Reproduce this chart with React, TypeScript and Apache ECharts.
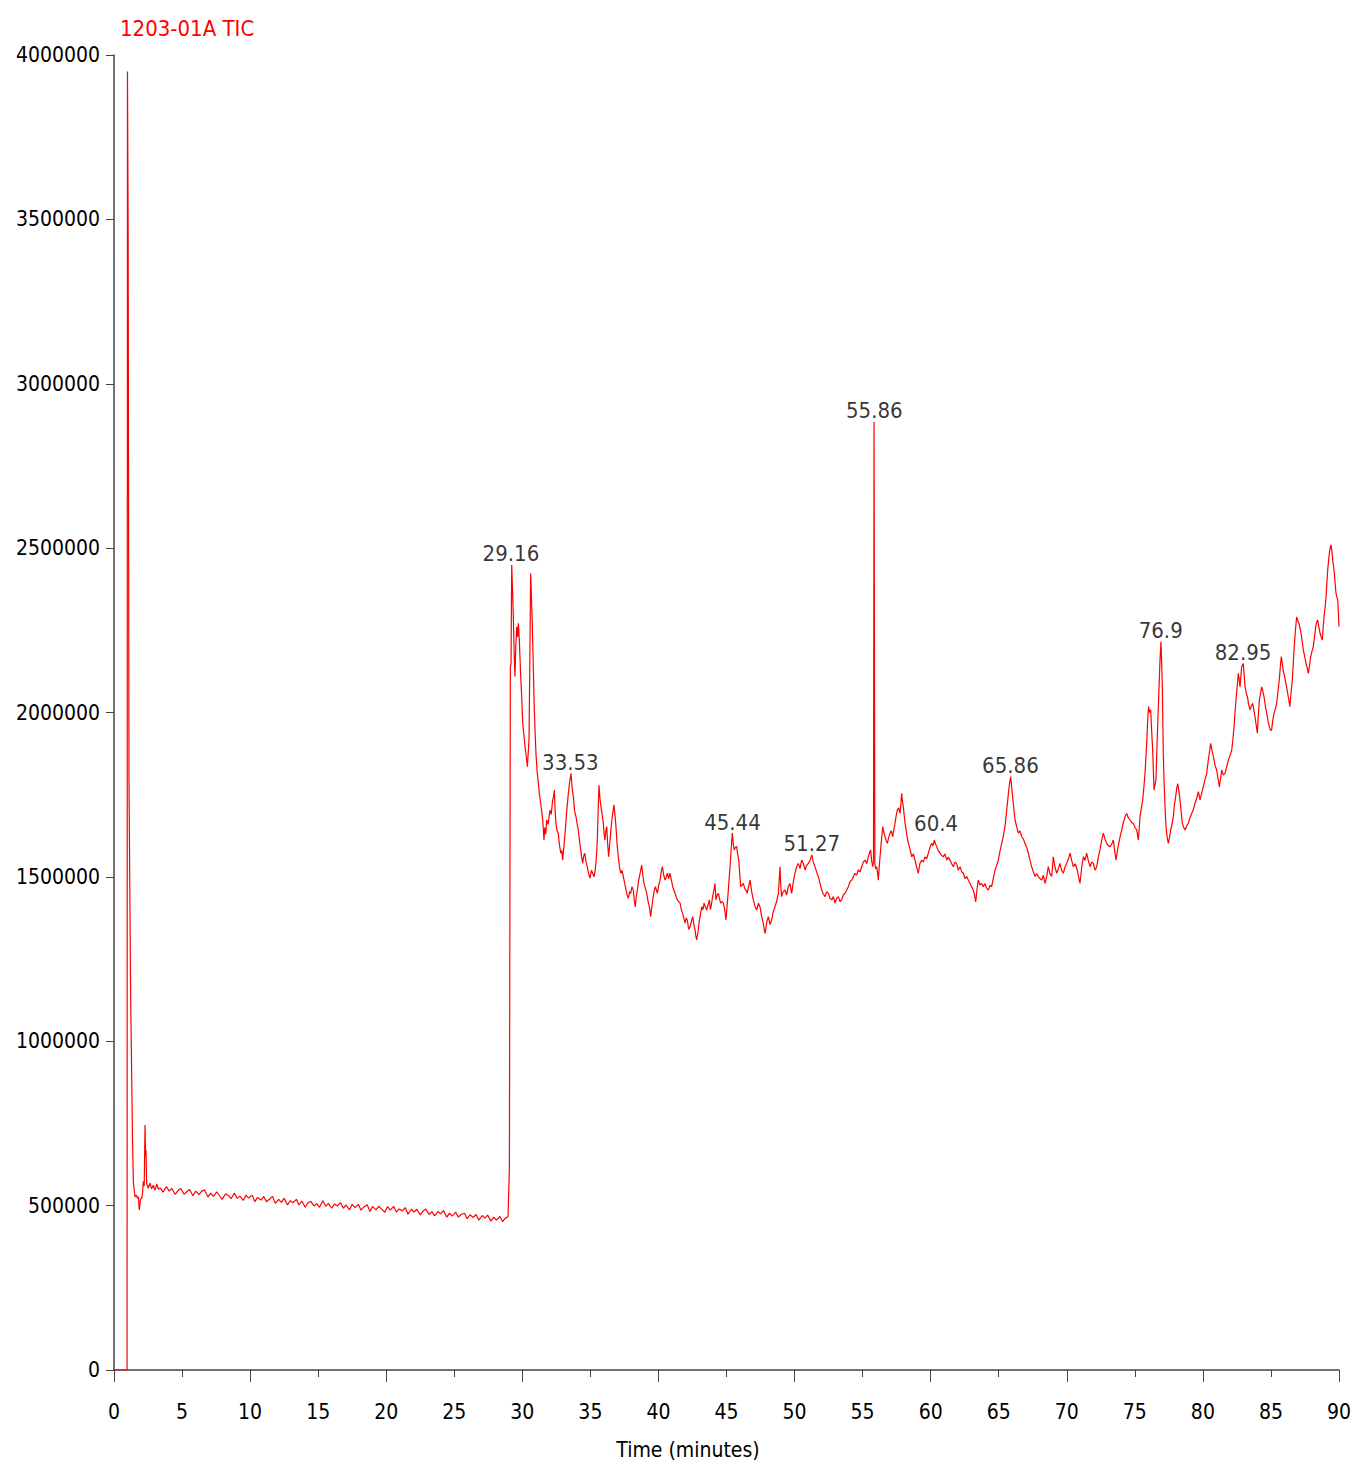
import React, { useEffect, useRef } from "react";
import * as echarts from "echarts";

const FONT = "'DejaVu Sans Condensed', 'Liberation Sans Narrow', sans-serif";

const chartTitle = "1203-01A TIC";
const xAxisTitle = "Time (minutes)";
const yTicks = [0, 500000, 1000000, 1500000, 2000000, 2500000, 3000000, 3500000, 4000000];

// [time (min), intensity]
const injection: number[][] = [
  [0, 0], [0.96, 0], [0.97, 1460000], [0.99, 3950000], [1.04, 3470000], [1.10, 1800000],
  [1.22, 1150000], [1.36, 700000], [1.42, 573000], [1.54, 527000], [1.65, 532000], [1.72, 522000],
  [1.79, 527000], [1.86, 487000], [1.95, 520000], [2.04, 523000], [2.10, 540000], [2.15, 573000],
  [2.22, 560000], [2.28, 745000], [2.32, 650000], [2.35, 669000], [2.40, 568000],
];

const baseline: number[][] = [
  [2.52, 553000], [2.64, 568000], [2.77, 551000], [2.89, 562000], [3.02, 547000], [3.14, 566000],
  [3.26, 550000], [3.40, 554000], [3.60, 541000], [3.85, 558000], [4.05, 544000], [4.25, 552000],
  [4.50, 534000], [4.70, 546000], [4.90, 552000], [5.15, 535000], [5.35, 542000], [5.55, 549000],
  [5.80, 530000], [6.00, 544000], [6.25, 534000], [6.45, 544000], [6.65, 548000], [6.90, 526000],
  [7.10, 538000], [7.30, 528000], [7.55, 542000], [7.75, 530000], [7.95, 519000], [8.20, 536000],
  [8.40, 531000], [8.60, 521000], [8.85, 538000], [9.05, 522000], [9.25, 529000], [9.50, 516000],
  [9.70, 532000], [9.90, 523000], [10.15, 532000], [10.35, 512000], [10.55, 525000], [10.80, 517000],
  [11.00, 528000], [11.20, 512000], [11.45, 520000], [11.65, 528000], [11.85, 507000], [12.10, 519000],
  [12.30, 510000], [12.50, 522000], [12.75, 502000], [12.95, 515000], [13.15, 509000], [13.40, 519000],
  [13.60, 502000], [13.80, 514000], [14.05, 495000], [14.25, 509000], [14.45, 513000], [14.70, 499000],
  [14.90, 506000], [15.10, 495000], [15.35, 515000], [15.55, 498000], [15.75, 507000], [16.00, 492000],
  [16.20, 505000], [16.40, 499000], [16.65, 509000], [16.85, 492000], [17.05, 502000], [17.30, 487000],
  [17.50, 504000], [17.70, 494000], [17.95, 504000], [18.15, 486000], [18.35, 496000], [18.60, 503000],
  [18.80, 482000], [19.00, 497000], [19.25, 487000], [19.45, 498000], [19.65, 490000], [19.90, 480000],
  [20.10, 497000], [20.30, 486000], [20.55, 498000], [20.75, 480000], [20.95, 490000], [21.20, 484000],
  [21.40, 494000], [21.60, 474000], [21.85, 489000], [22.05, 480000], [22.25, 489000], [22.50, 472000],
  [22.70, 483000], [22.90, 490000], [23.15, 473000], [23.35, 482000], [23.55, 469000], [23.80, 482000],
  [24.00, 475000], [24.20, 485000], [24.45, 465000], [24.65, 477000], [24.85, 468000], [25.10, 480000],
  [25.30, 465000], [25.50, 473000], [25.75, 477000], [25.95, 460000], [26.15, 472000], [26.40, 464000],
  [26.60, 473000], [26.80, 456000], [27.05, 470000], [27.25, 462000], [27.45, 471000], [27.70, 453000],
  [27.90, 465000], [28.10, 456000], [28.35, 467000], [28.55, 451000], [28.75, 462000], [28.95, 466000],
];

const elution1: number[][] = [
  [29.05, 618000], [29.12, 2139000], [29.17, 2150000], [29.22, 2449000], [29.34, 2291000], [29.40, 2180000],
  [29.46, 2109000], [29.52, 2200000], [29.59, 2261000], [29.65, 2230000], [29.71, 2271000], [29.78, 2220000],
  [29.88, 2109000], [29.95, 2050000], [30.03, 1967000], [30.12, 1930000], [30.20, 1896000], [30.28, 1870000],
  [30.37, 1835000], [30.49, 1916000], [30.55, 2150000], [30.61, 2423000], [30.67, 2350000], [30.73, 2271000],
  [30.80, 2150000], [30.86, 2038000], [30.93, 1950000], [31.00, 1876000], [31.09, 1820000], [31.18, 1784000],
  [31.26, 1750000], [31.35, 1724000], [31.42, 1700000], [31.50, 1673000], [31.59, 1612000], [31.65, 1650000],
  [31.72, 1630000], [31.79, 1673000], [31.90, 1660000], [32.03, 1703000], [32.12, 1690000], [32.23, 1734000],
  [32.30, 1745000], [32.35, 1764000], [32.41, 1700000], [32.47, 1663000], [32.55, 1640000], [32.64, 1633000],
  [32.72, 1600000], [32.82, 1572000], [32.90, 1580000], [32.96, 1551000], [33.05, 1590000], [33.14, 1633000],
  [33.26, 1700000], [33.38, 1754000], [33.48, 1790000], [33.58, 1815000], [33.66, 1770000], [33.75, 1744000],
  [33.84, 1700000], [33.94, 1683000], [34.03, 1660000], [34.11, 1643000], [34.20, 1610000], [34.29, 1582000],
  [34.36, 1560000], [34.43, 1541000], [34.52, 1565000], [34.60, 1572000], [34.68, 1545000], [34.77, 1531000],
  [34.87, 1510000], [34.97, 1496000], [35.07, 1520000], [35.17, 1511000], [35.27, 1500000], [35.36, 1521000],
  [35.44, 1560000], [35.51, 1612000], [35.57, 1700000], [35.63, 1779000], [35.70, 1740000], [35.78, 1713000],
  [35.86, 1690000], [35.95, 1663000], [36.01, 1630000], [36.07, 1612000], [36.13, 1640000], [36.20, 1653000],
  [36.27, 1600000], [36.34, 1561000], [36.42, 1600000], [36.49, 1633000], [36.57, 1670000], [36.64, 1693000],
  [36.73, 1719000], [36.80, 1690000], [36.88, 1653000], [36.96, 1600000], [37.05, 1561000], [37.14, 1530000],
  [37.23, 1511000], [37.32, 1520000], [37.42, 1501000], [37.52, 1480000], [37.62, 1460000], [37.70, 1445000],
  [37.79, 1435000], [37.88, 1455000], [37.96, 1450000], [38.05, 1470000], [38.15, 1460000], [38.22, 1430000],
  [38.30, 1409000], [38.37, 1440000], [38.45, 1460000], [38.55, 1490000], [38.65, 1511000], [38.77, 1536000],
  [38.85, 1505000], [38.94, 1480000], [39.04, 1465000], [39.14, 1450000], [39.24, 1425000], [39.33, 1409000],
  [39.43, 1379000], [39.50, 1405000], [39.58, 1430000], [39.68, 1455000], [39.77, 1470000], [39.85, 1460000],
  [39.92, 1450000], [40.02, 1475000], [40.12, 1490000], [40.20, 1515000], [40.29, 1531000], [40.39, 1505000],
  [40.49, 1490000], [40.58, 1500000], [40.66, 1511000], [40.75, 1495000], [40.85, 1511000], [40.95, 1490000],
  [41.05, 1470000], [41.13, 1460000], [41.22, 1450000], [41.30, 1440000], [41.39, 1430000], [41.49, 1425000],
  [41.59, 1420000], [41.68, 1400000], [41.78, 1389000], [41.86, 1375000], [41.95, 1359000], [42.04, 1375000],
  [42.12, 1369000], [42.22, 1340000], [42.32, 1348000], [42.42, 1365000], [42.52, 1379000], [42.60, 1355000],
  [42.69, 1338000], [42.75, 1320000], [42.81, 1308000], [42.90, 1330000], [42.98, 1359000], [43.08, 1385000],
  [43.18, 1409000], [43.27, 1400000], [43.35, 1420000], [43.44, 1410000], [43.54, 1399000], [43.64, 1415000],
  [43.74, 1430000], [43.82, 1400000], [43.91, 1420000], [44.00, 1445000], [44.08, 1460000], [44.15, 1480000],
  [44.23, 1430000], [44.32, 1445000], [44.40, 1450000], [44.48, 1435000], [44.57, 1420000], [44.67, 1425000],
  [44.77, 1420000], [44.87, 1400000], [44.96, 1369000], [45.02, 1400000], [45.08, 1430000], [45.17, 1480000],
  [45.26, 1531000], [45.35, 1590000], [45.43, 1633000], [45.50, 1600000], [45.57, 1582000], [45.66, 1590000],
  [45.75, 1592000], [45.82, 1570000], [45.90, 1551000], [45.97, 1510000], [46.04, 1470000], [46.14, 1475000],
  [46.24, 1480000], [46.33, 1465000], [46.43, 1460000], [46.52, 1450000],
];

const elution2: number[][] = [
  [46.62, 1470000], [46.73, 1490000], [46.85, 1455000], [46.97, 1430000], [47.10, 1410000], [47.22, 1399000],
  [47.34, 1420000], [47.46, 1409000], [47.58, 1380000], [47.70, 1359000], [47.77, 1340000], [47.83, 1328000],
  [47.95, 1360000], [48.07, 1379000], [48.20, 1355000], [48.32, 1369000], [48.44, 1395000], [48.56, 1409000],
  [48.68, 1425000], [48.81, 1450000], [48.87, 1490000], [48.93, 1531000], [48.99, 1470000], [49.05, 1440000],
  [49.17, 1455000], [49.30, 1460000], [49.42, 1445000], [49.54, 1470000], [49.66, 1480000], [49.79, 1450000],
  [49.91, 1485000], [50.03, 1511000], [50.15, 1530000], [50.28, 1541000], [50.40, 1525000], [50.52, 1551000],
  [50.65, 1540000], [50.77, 1521000], [50.89, 1535000], [51.01, 1541000], [51.14, 1550000], [51.26, 1567000],
  [51.38, 1545000], [51.50, 1531000], [51.62, 1515000], [51.75, 1501000], [51.87, 1480000], [51.99, 1460000],
  [52.11, 1448000], [52.24, 1440000], [52.36, 1455000], [52.48, 1450000], [52.60, 1435000], [52.73, 1430000],
  [52.85, 1440000], [52.97, 1420000], [53.10, 1435000], [53.22, 1440000], [53.34, 1425000], [53.46, 1430000],
  [53.58, 1445000], [53.71, 1450000], [53.83, 1460000], [53.95, 1470000], [54.07, 1485000], [54.20, 1490000],
  [54.32, 1500000], [54.44, 1511000], [54.56, 1505000], [54.68, 1521000], [54.80, 1515000], [54.93, 1531000],
  [55.05, 1545000], [55.18, 1551000], [55.30, 1540000], [55.42, 1561000], [55.52, 1575000], [55.59, 1582000],
  [55.66, 1550000], [55.74, 1531000], [55.80, 1545000], [55.84, 2884000], [55.87, 2246000], [55.90, 1540000],
  [55.96, 1525000], [56.03, 1531000], [56.09, 1515000], [56.15, 1490000], [56.22, 1530000], [56.28, 1561000],
  [56.38, 1610000], [56.48, 1653000], [56.56, 1635000], [56.65, 1622000], [56.73, 1610000], [56.82, 1602000],
  [56.92, 1620000], [57.01, 1633000], [57.11, 1640000], [57.21, 1622000], [57.30, 1645000], [57.38, 1663000],
  [57.46, 1685000], [57.55, 1703000], [57.65, 1710000], [57.75, 1693000], [57.81, 1720000], [57.87, 1754000],
  [57.93, 1730000], [57.99, 1713000], [58.05, 1690000], [58.12, 1663000], [58.24, 1630000], [58.36, 1602000],
  [58.48, 1585000], [58.61, 1561000], [58.73, 1570000], [58.85, 1551000], [58.97, 1530000], [59.09, 1511000],
  [59.21, 1540000], [59.34, 1551000], [59.46, 1545000], [59.58, 1561000], [59.70, 1555000], [59.83, 1572000],
  [59.95, 1590000], [60.08, 1602000], [60.18, 1595000], [60.27, 1612000], [60.36, 1600000], [60.44, 1592000],
  [60.56, 1580000], [60.69, 1572000], [60.81, 1565000], [60.93, 1561000], [61.05, 1570000], [61.18, 1551000],
  [61.30, 1560000], [61.42, 1551000], [61.54, 1540000], [61.66, 1531000], [61.78, 1545000], [61.91, 1541000],
  [62.03, 1520000], [62.16, 1531000], [62.28, 1515000], [62.40, 1511000], [62.52, 1495000], [62.65, 1501000],
  [62.77, 1490000], [62.89, 1480000], [63.01, 1470000], [63.13, 1460000], [63.22, 1445000], [63.31, 1424000],
  [63.40, 1460000], [63.50, 1490000], [63.62, 1475000], [63.75, 1480000], [63.87, 1470000], [63.99, 1480000],
  [64.11, 1465000], [64.24, 1460000], [64.36, 1475000], [64.48, 1470000], [64.60, 1495000], [64.73, 1521000],
  [64.85, 1535000], [64.97, 1551000], [65.10, 1580000], [65.22, 1602000], [65.34, 1625000], [65.46, 1653000],
  [65.58, 1700000], [65.71, 1754000], [65.80, 1785000], [65.88, 1805000], [65.97, 1765000], [66.07, 1724000],
  [66.20, 1673000], [66.32, 1653000],
];

const elution3: number[][] = [
  [66.44, 1633000], [66.56, 1640000], [66.69, 1622000], [66.81, 1615000], [66.93, 1602000], [67.05, 1590000],
  [67.18, 1572000], [67.30, 1550000], [67.42, 1531000], [67.55, 1515000], [67.67, 1501000], [67.79, 1510000],
  [67.91, 1501000], [68.03, 1495000], [68.16, 1490000], [68.28, 1505000], [68.40, 1480000], [68.52, 1500000],
  [68.64, 1531000], [68.76, 1510000], [68.89, 1501000], [69.01, 1561000], [69.13, 1530000], [69.26, 1511000],
  [69.38, 1525000], [69.50, 1541000], [69.62, 1520000], [69.75, 1511000], [69.87, 1530000], [69.99, 1541000],
  [70.12, 1555000], [70.24, 1572000], [70.36, 1550000], [70.48, 1531000], [70.62, 1540000], [70.77, 1521000],
  [70.87, 1500000], [70.97, 1480000], [71.10, 1530000], [71.22, 1561000], [71.34, 1550000], [71.46, 1572000],
  [71.58, 1550000], [71.71, 1531000], [71.83, 1545000], [71.95, 1541000], [72.08, 1520000], [72.20, 1531000],
  [72.32, 1560000], [72.44, 1582000], [72.56, 1610000], [72.69, 1633000], [72.81, 1615000], [72.93, 1602000],
  [73.05, 1595000], [73.18, 1592000], [73.30, 1600000], [73.42, 1612000], [73.52, 1580000], [73.62, 1551000],
  [73.72, 1580000], [73.82, 1602000], [73.93, 1625000], [74.04, 1643000], [74.12, 1660000], [74.21, 1673000],
  [74.30, 1685000], [74.40, 1693000], [74.52, 1680000], [74.65, 1673000], [74.77, 1665000], [74.89, 1663000],
  [75.01, 1650000], [75.14, 1643000], [75.26, 1612000], [75.38, 1683000], [75.48, 1710000], [75.58, 1734000],
  [75.67, 1775000], [75.75, 1815000], [75.87, 1906000], [75.95, 1980000], [76.01, 2018000], [76.08, 2000000],
  [76.16, 2008000], [76.23, 1950000], [76.31, 1886000], [76.41, 1764000], [76.48, 1780000], [76.55, 1795000],
  [76.62, 1890000], [76.70, 1987000], [76.78, 2080000], [76.85, 2160000], [76.92, 2215000], [76.97, 2150000],
  [77.02, 2078000], [77.09, 1876000], [77.15, 1790000], [77.22, 1713000], [77.28, 1660000], [77.34, 1633000],
  [77.40, 1615000], [77.46, 1602000], [77.55, 1620000], [77.64, 1643000], [77.73, 1660000], [77.83, 1683000],
  [77.91, 1720000], [78.00, 1744000], [78.08, 1770000], [78.15, 1784000], [78.24, 1760000], [78.32, 1734000],
  [78.40, 1700000], [78.49, 1663000], [78.59, 1650000], [78.69, 1643000], [78.81, 1655000], [78.93, 1663000],
  [79.05, 1680000], [79.18, 1693000], [79.30, 1705000], [79.42, 1724000], [79.55, 1740000], [79.67, 1759000],
];

const elution4: number[][] = [
  [79.79, 1734000], [79.91, 1755000], [80.03, 1774000], [80.15, 1795000], [80.28, 1815000], [80.38, 1850000],
  [80.47, 1876000], [80.57, 1906000], [80.67, 1885000], [80.77, 1866000], [80.89, 1840000], [81.01, 1825000],
  [81.11, 1800000], [81.21, 1774000], [81.30, 1800000], [81.38, 1825000], [81.50, 1810000], [81.63, 1815000],
  [81.75, 1835000], [81.87, 1855000], [82.00, 1870000], [82.12, 1886000], [82.21, 1920000], [82.29, 1957000],
  [82.36, 2000000], [82.43, 2038000], [82.52, 2080000], [82.60, 2119000], [82.67, 2100000], [82.73, 2078000],
  [82.79, 2110000], [82.85, 2139000], [82.97, 2149000], [83.04, 2110000], [83.10, 2078000], [83.18, 2060000],
  [83.27, 2048000], [83.36, 2025000], [83.46, 2008000], [83.56, 2020000], [83.66, 2028000], [83.75, 2005000],
  [83.83, 1987000], [83.92, 1960000], [84.00, 1937000], [84.07, 1990000], [84.15, 2038000], [84.24, 2060000],
  [84.32, 2078000], [84.40, 2065000], [84.49, 2048000], [84.59, 2020000], [84.69, 1997000], [84.78, 1975000],
  [84.88, 1957000], [84.97, 1945000], [85.05, 1947000], [85.13, 1975000], [85.22, 1997000], [85.32, 2010000],
  [85.42, 2028000], [85.52, 2065000], [85.61, 2099000], [85.69, 2140000], [85.76, 2170000], [85.83, 2150000],
  [85.90, 2129000], [86.00, 2110000], [86.10, 2088000], [86.18, 2070000], [86.27, 2048000], [86.33, 2035000],
  [86.39, 2018000], [86.48, 2060000], [86.57, 2099000], [86.64, 2150000], [86.71, 2200000], [86.80, 2250000],
  [86.89, 2291000], [86.97, 2280000], [87.06, 2271000], [87.14, 2255000], [87.21, 2241000], [87.30, 2215000],
  [87.38, 2190000], [87.48, 2170000], [87.58, 2149000], [87.66, 2135000], [87.75, 2119000], [87.84, 2145000],
  [87.92, 2170000], [88.01, 2185000], [88.11, 2200000], [88.20, 2230000], [88.29, 2261000], [88.36, 2275000],
  [88.43, 2281000], [88.52, 2260000], [88.61, 2241000], [88.69, 2230000], [88.77, 2220000], [88.84, 2260000],
  [88.90, 2291000], [88.98, 2320000], [89.05, 2352000], [89.11, 2395000], [89.17, 2433000], [89.23, 2460000],
  [89.29, 2484000], [89.35, 2500000], [89.41, 2510000], [89.48, 2490000], [89.54, 2464000], [89.60, 2445000],
  [89.66, 2423000], [89.72, 2390000], [89.78, 2362000], [89.85, 2350000], [89.91, 2342000], [89.97, 2290000],
  [90.00, 2261000],
];

const peakLabels = ["29.16", "33.53", "45.44", "51.27", "55.86", "60.4", "65.86", "76.9", "82.95"];
const peakTimes = [29.16, 33.53, 45.44, 51.27, 55.86, 60.4, 65.86, 76.9, 82.95];
const peakValues = [2449000, 1815000, 1633000, 1567000, 2884000, 1630000, 1805000, 2215000, 2149000];

export default function App() {
  const ref = useRef<HTMLDivElement>(null);
  useEffect(() => {
    document.body.style.margin = "0";
    if (!ref.current) return;
    const chart = echarts.init(ref.current, undefined, { renderer: "svg" });
    const tic = [...injection, ...baseline, ...elution1, ...elution2, ...elution3, ...elution4];
    const axisColor = "#444";
    chart.setOption({
      animation: false,
      backgroundColor: "#ffffff",
      textStyle: { fontFamily: FONT },
      grid: { left: 114, right: 17, top: 55, bottom: 95, containLabel: false, outerBoundsMode: "none" },
      title: {
        text: chartTitle,
        left: 115,
        top: 12,
        textStyle: { color: "#ff0000", fontSize: 22, fontWeight: "normal", fontFamily: FONT },
      },
      xAxis: [
        {
          type: "value",
          min: 0,
          max: 90,
          interval: 5,
          axisLine: { show: true, onZero: false, lineStyle: { color: axisColor, width: 1.5 } },
          axisTick: { show: true, length: 7, lineStyle: { color: axisColor, width: 1 } },
          axisLabel: { color: "#000", fontSize: 21, fontFamily: FONT, margin: 31 },
          splitLine: { show: false },
        },
        {
          type: "value",
          min: 0,
          max: 90,
          interval: 10,
          position: "bottom",
          axisLine: { show: false },
          axisTick: { show: true, length: 12, lineStyle: { color: axisColor, width: 1 } },
          axisLabel: { show: false },
          splitLine: { show: false },
        },
      ],
      yAxis: {
        type: "value",
        min: 0,
        max: 4000000,
        interval: 500000,
        axisLine: { show: true, lineStyle: { color: axisColor, width: 1.5 } },
        axisTick: { show: true, length: 8, lineStyle: { color: axisColor, width: 1 } },
        axisLabel: {
          color: "#000",
          fontSize: 21,
          fontFamily: FONT,
          margin: 14,
          formatter: (v: number) => (yTicks.includes(v) ? String(v) : ""),
        },
        splitLine: { show: false },
      },
      graphic: [
        {
          type: "text",
          x: 688,
          y: 1450,
          style: {
            text: xAxisTitle,
            fontSize: 21,
            fontFamily: FONT,
            fill: "#000",
            align: "center",
            verticalAlign: "middle",
          },
        },
      ],
      series: [
        {
          type: "line",
          data: tic,
          showSymbol: false,
          symbol: "none",
          lineStyle: { color: "#ff0000", width: 1.2 },
          silent: true,
          z: 2,
        },
        {
          type: "scatter",
          data: peakTimes.map((t, i) => [t, peakValues[i]]),
          symbolSize: 0,
          silent: true,
          label: {
            show: true,
            position: "top",
            distance: 0,
            color: "#000",
            fontSize: 22,
            fontFamily: FONT,
            formatter: (p: any) => peakLabels[p.dataIndex],
          },
          z: 3,
        },
      ],
    });
    return () => chart.dispose();
  }, []);
  return <div ref={ref} style={{ width: 1356, height: 1465 }} />;
}
